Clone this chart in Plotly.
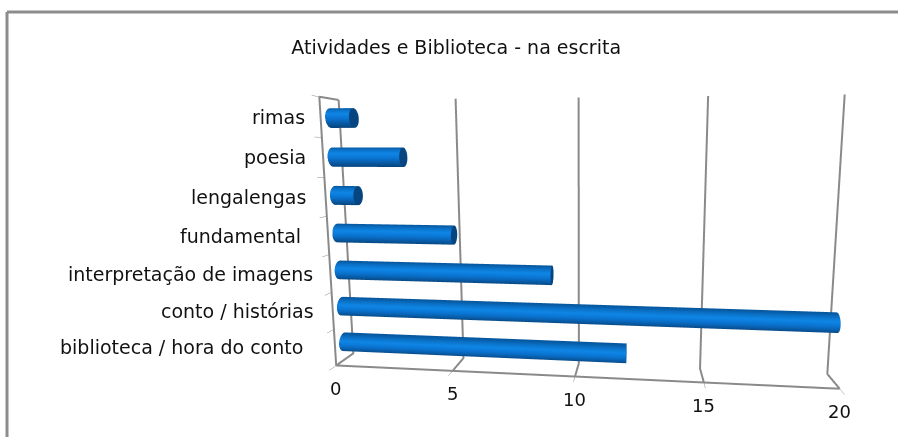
import numpy as np
import plotly.graph_objects as go

categories = ["biblioteca / hora do conto", "conto / histórias", "interpretação de imagens",
              "fundamental ", "lengalengas", "poesia", "rimas"]
values = [12, 20, 9, 5, 1, 3, 1]
value_ticks = [0, 5, 10, 15, 20]
title = "Atividades e Biblioteca - na escrita"
label_nudge = [-8, 6, 7, 3, 5, 7, 9]

RADIUS = 0.25
DEPTH = 0.9
N = 28
XMAX = 20
LINE = "#8a8a8a"


def cylinder(v, k):
    ang = np.linspace(0, 2 * np.pi, N, endpoint=False)
    cy = DEPTH / 2 + RADIUS * np.cos(ang)
    cz = k + 0.5 + RADIUS * np.sin(ang)
    x = np.r_[np.zeros(N), np.full(N, v), np.full(N, v), [v]]
    y = np.r_[cy, cy, cy, [DEPTH / 2]]
    z = np.r_[cz, cz, cz, [k + 0.5]]
    shade = np.sin(ang)
    intensity = np.r_[shade, shade, np.full(N, -1.25), [-1.25]]
    i, j, l = [], [], []
    for a in range(N):
        b = (a + 1) % N
        i += [a, b]
        j += [b, b + N]
        l += [a + N, a + N]
        i.append(2 * N + a)
        j.append(2 * N + b)
        l.append(3 * N)
    return go.Mesh3d(
        x=x, y=y, z=z, i=i, j=j, k=l, intensity=intensity, cmin=-1.25, cmax=1,
        colorscale=[[0, "#06457f"], [0.13, "#07467f"], [0.5, "#0a72cf"],
                    [0.72, "#0f86e6"], [0.9, "#0a6fc4"], [1, "#07589f"]],
        showscale=False, flatshading=False, hoverinfo="skip",
        lighting=dict(ambient=1, diffuse=0, specular=0, roughness=1, fresnel=0),
    )


def rule(x, y, z):
    return go.Scatter3d(x=x, y=y, z=z, mode="lines", line=dict(color=LINE, width=4),
                        hoverinfo="skip", showlegend=False)


top = len(categories)
traces = [cylinder(v, k) for k, v in enumerate(values)]
for t in value_ticks:
    traces.append(rule([t, t, t], [0, DEPTH, DEPTH], [0, 0, top]))
traces.append(rule([0, XMAX], [0, 0], [0, 0]))
traces.append(rule([0, 0, 0], [0, 0, DEPTH], [0, top, top]))

fig = go.Figure(traces)
font = dict(family="DejaVu Sans", size=19, color="#111111")
tick_font = dict(family="DejaVu Sans", size=18, color="#111111")
common = dict(showbackground=False, title="", zeroline=False, showspikes=False,
              showgrid=False, showline=False, showticklabels=False, tickcolor=LINE)
notes = [dict(x=0, y=0, z=k + 0.5, text=c, showarrow=False, xanchor="right", yanchor="middle",
              xshift=-22 + label_nudge[k], font=font) for k, c in enumerate(categories)]
notes += [dict(x=t, y=0, z=0, text=str(t), showarrow=False, xanchor="center", yanchor="middle",
               xshift=0, yshift=-23, font=tick_font) for t in value_ticks]
fig.update_layout(
    width=898, height=437, margin=dict(l=0, r=0, t=0, b=0),
    paper_bgcolor="white", showlegend=False,
    title=dict(text=title, x=0.508, xanchor="center", y=0.892, yanchor="middle",
               font=dict(family="DejaVu Sans", size=19, color="#111111")),
    shapes=[dict(type="line", xref="paper", yref="paper", x0=0.0078, x1=1, y0=0.9725, y1=0.9725,
                 line=dict(color="#8c8c8c", width=3)),
            dict(type="line", xref="paper", yref="paper", x0=0.0078, x1=0.0078, y0=0, y1=0.9725,
                 line=dict(color="#8c8c8c", width=3))],
    scene=dict(
        domain=dict(x=[0.298, 1], y=[0, 1]),
        bgcolor="rgba(0,0,0,0)",
        aspectmode="manual", aspectratio=dict(x=4.06, y=0.27, z=2.22),
        annotations=notes,
        xaxis=dict(common, range=[0, XMAX], tickvals=value_ticks, ticks="outside", ticklen=4),
        yaxis=dict(common, range=[0, DEPTH], tickvals=[]),
        zaxis=dict(common, range=[0, top], tickvals=list(range(top + 1)), ticks="outside", ticklen=4),
        camera=dict(eye=dict(x=0.50, y=-4.14, z=0.69), center=dict(x=0.05, y=0, z=0.152),
                    up=dict(x=0, y=0, z=1), projection=dict(type="perspective")),
    ),
)
fig.write_html("out.html", config=dict(displayModeBar=False),
               post_script="document.body.style.margin='0';")
